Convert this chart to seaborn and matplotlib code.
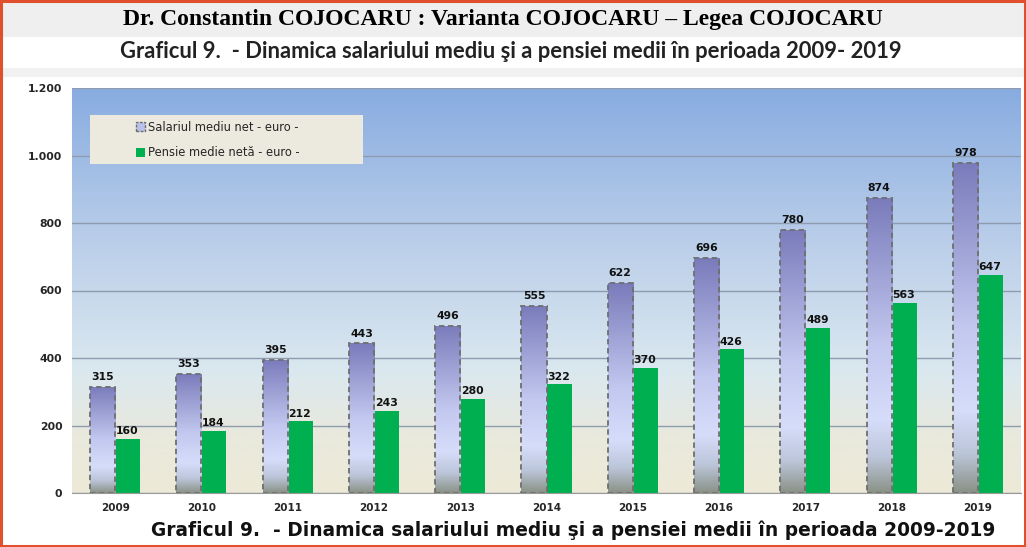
import numpy as np
import pandas as pd
import matplotlib
matplotlib.use("Agg")
import matplotlib.pyplot as plt
import seaborn as sns
from matplotlib.colors import LinearSegmentedColormap
from matplotlib.patches import Rectangle, Patch

# date
ani = ["2009", "2010", "2011", "2012", "2013", "2014", "2015", "2016", "2017", "2018", "2019"]
salariu = [315, 353, 395, 443, 496, 555, 622, 696, 780, 874, 978]
pensie = [160, 184, 212, 243, 280, 322, 370, 426, 489, 563, 647]
serii = ["Salariul mediu net - euro -", "Pensie medie netă - euro -"]
yticks = [0, 200, 400, 600, 800, 1000, 1200]
ytick_labels = ["0", "200", "400", "600", "800", "1.000", "1.200"]

df = pd.DataFrame({
    "an": ani * 2,
    "valoare": salariu + pensie,
    "serie": [serii[0]] * len(ani) + [serii[1]] * len(ani),
})

sns.set_style("white")
plt.rcParams["font.family"] = ["DejaVu Sans"]

fig = plt.figure(figsize=(10.26, 5.47), dpi=100)
fig.patch.set_facecolor("white")

# benzi gri din captura
fig.patches.append(Rectangle((0, 1 - 37 / 547), 1, 37 / 547, transform=fig.transFigure,
                             facecolor="#efefef", edgecolor="none", zorder=0))
fig.patches.append(Rectangle((0, 1 - 77 / 547), 1, 9 / 547, transform=fig.transFigure,
                             facecolor="#f1f1f1", edgecolor="none", zorder=0))

ax = fig.add_axes([72 / 1026, 1 - 493 / 547, 949 / 1026, 405 / 547])

sns.barplot(data=df, x="an", y="valoare", hue="serie", palette=["#cdd6f7", "#00b050"],
            width=0.58, gap=0, saturation=1, ax=ax, legend=False, zorder=1)

# fundal in degrade
bg_cmap = LinearSegmentedColormap.from_list("bg", [(0, "#ede9d7"), (0.14, "#e9e9dd"), (0.3, "#dae8ef"),
                                                   (0.6, "#bdd0ea"), (1.0, "#88ace0")])
grad = np.linspace(0, 1, 256).reshape(-1, 1)
ax.imshow(grad, extent=[0, 1, 0, 1], transform=ax.transAxes, origin="lower",
          cmap=bg_cmap, aspect="auto", zorder=0)
ax.patch.set_visible(False)

# bare salariu cu degrade
bar_cmap = LinearSegmentedColormap.from_list("bar", [(0, "#8a9286"), (0.12, "#bcc6da"), (0.25, "#d6ddfa"),
                                                     (0.5, "#c2c8ef"), (1.0, "#7a7bbb")])
for bar in ax.containers[0]:
    x0, w, h = bar.get_x(), bar.get_width(), bar.get_height()
    im = ax.imshow(grad, extent=[x0, x0 + w, 0, h], origin="lower", cmap=bar_cmap,
                   aspect="auto", zorder=1.1)
    im.set_clip_path(bar)
    bar.set_facecolor("none")
    bar.set_edgecolor("#6e6e6e")
    bar.set_linestyle((0, (3, 2)))
    bar.set_linewidth(1.3)
    bar.set_zorder(1.2)
    ax.text(x0 + w / 2, h + 14, str(int(h)), ha="center", va="bottom",
            fontsize=7.8, fontweight="bold", color="#111111", zorder=3)

for bar in ax.containers[1]:
    x0, h = bar.get_x(), bar.get_height()
    bar.set_edgecolor("none")
    ax.text(x0 + 0.01, h + 8, str(int(h)), ha="left", va="bottom",
            fontsize=7.8, fontweight="bold", color="#111111", zorder=3)

ax.set_xlim(-0.5, len(ani) - 0.5)
ax.set_ylim(0, 1200)
ax.set_yticks(yticks)
ax.set_yticklabels(ytick_labels, fontsize=7.8, fontweight="bold")
ax.set_xticks(range(len(ani)))
ax.set_xticklabels(ani, fontsize=7.5, fontweight="bold")
ax.set_xticks(np.arange(-0.5, len(ani), 1), minor=True)
ax.tick_params(axis="x", which="major", length=0, pad=7)
ax.tick_params(axis="x", which="minor", length=3, color="#9a9a9a", direction="out")
ax.tick_params(axis="y", length=3, color="#9a9a9a", direction="out", pad=4)
ax.set_xlabel("")
ax.set_ylabel("")
ax.set_axisbelow(True)
ax.yaxis.grid(True, color="#8f9caf", linewidth=1)
for s in ["left", "right", "top"]:
    ax.spines[s].set_visible(False)
ax.spines["bottom"].set_color("#9a9a9a")

# legenda
ax.add_patch(Rectangle((0.019, 0.812), 0.288, 0.121, transform=ax.transAxes,
                       facecolor="#ece9df", edgecolor="none", zorder=4))
handles = [Patch(facecolor="#b9c0ea", edgecolor="#6e6e6e", linestyle=(0, (2, 1)), label=serii[0]),
           Patch(facecolor="#00b050", edgecolor="none", label=serii[1])]
ax.legend(handles=handles, loc="upper left", bbox_to_anchor=(0.056, 0.945), frameon=False,
          fontsize=8.3, handlelength=0.8, handleheight=0.8, handletextpad=0.3,
          labelspacing=1.1).set_zorder(5)

fig.text(503 / 1026, 1 - 20 / 547, "Dr. Constantin COJOCARU : Varianta COJOCARU – Legea COJOCARU",
         ha="center", va="center", fontsize=17, fontweight="bold", family="Liberation Serif",
         color="black")
fig.text(511 / 1026, 1 - 51 / 547,
         "Graficul 9.  - Dinamica salariului mediu şi a pensiei medii în perioada 2009- 2019",
         ha="center", va="center", fontsize=15.8, fontweight="bold", family="Lato", color="#222222")
fig.text(573 / 1026, 1 - 530 / 547,
         "Graficul 9.  - Dinamica salariului mediu şi a pensiei medii în perioada 2009-2019",
         ha="center", va="center", fontsize=13.4, fontweight="bold", color="#111111")

# chenar rosu
fig.patches.append(Rectangle((0.001, 0.002), 0.998, 0.997, transform=fig.transFigure,
                             facecolor="none", edgecolor="#e0502c", linewidth=2.2, zorder=10))

fig.savefig("out.png", dpi=100)
